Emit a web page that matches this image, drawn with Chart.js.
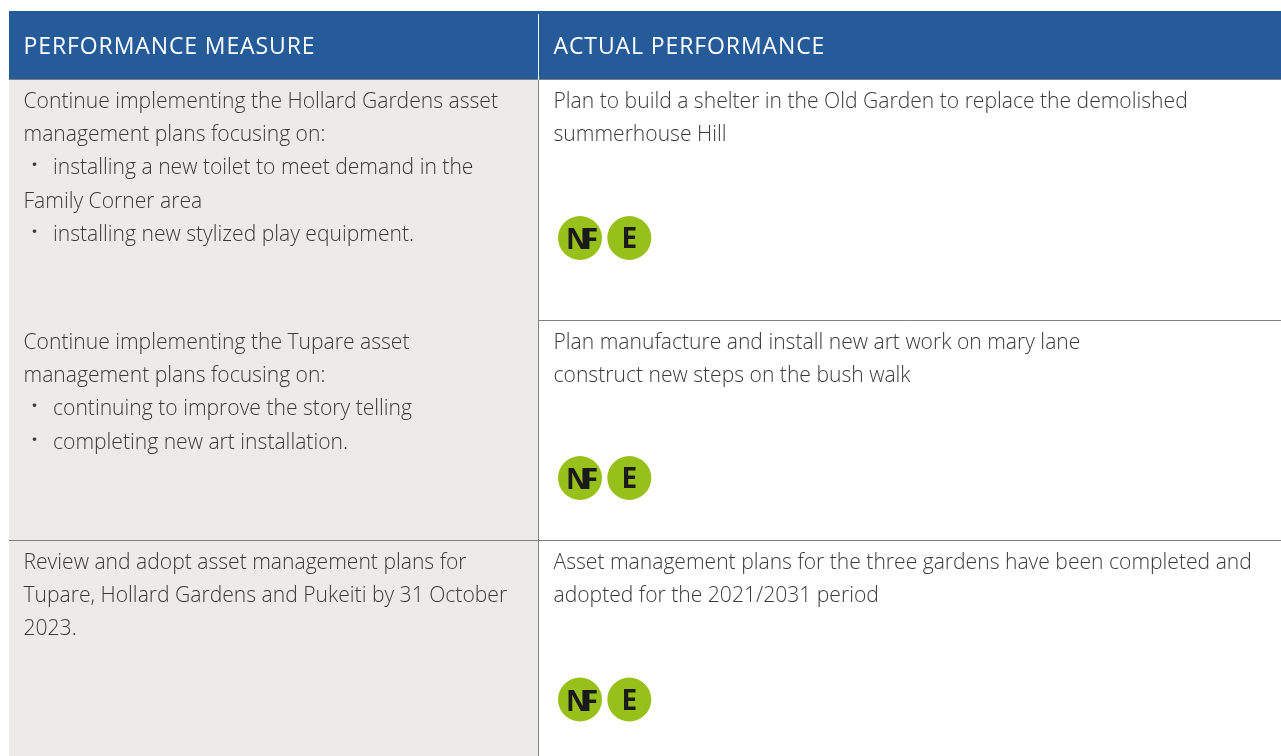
<!DOCTYPE html>
<html>
<head>
<meta charset="utf-8">
<style>
  html, body { margin: 0; background: #fff; overflow: hidden; }
  canvas { display: block; }
</style>
<script src="https://cdn.jsdelivr.net/npm/chart.js@4"></script>
</head>
<body>
<canvas id="myChart" width="1281" height="756"></canvas>
<script>
// table content
const columnTitles = ["PERFORMANCE MEASURE", "ACTUAL PERFORMANCE"];
const measureLines = [
    ["Continue implementing the Hollard Gardens asset", "management plans focusing on:", "· installing a new toilet to meet demand in the", "Family Corner area", "· installing new stylized play equipment."],
    ["Continue implementing the Tupare asset", "management plans focusing on:", "· continuing to improve the story telling", "· completing new art installation."],
    ["Review and adopt asset management plans for", "Tupare, Hollard Gardens and Pukeiti by 31 October", "2023."]
];
const actualLines = [
    ["Plan to build a shelter in the Old Garden to replace the demolished", "summerhouse Hill"],
    ["Plan manufacture and install new art work on mary lane", "construct new steps on the bush walk"],
    ["Asset management plans for the three gardens have been completed and", "adopted for the 2021/2031 period"]
];
const badgeLabels = ["NF", "E"];

// layout of the table, in page pixels
const pageWidth = 1281, pageHeight = 756;
const tableLeft = 9, divider = 538.5, headTop = 11, headBottom = 79.5;
const rowRules = [320.5, 540.5];
const rowBaselines = [108, 349, 569];
const lineGap = 33.2;
const textX = [23.5, 553.5];
const bulletTextX = 53;
const badgeX = [580, 629.3];
const badgeY = [238, 478, 699.5];

const rects = (x, width, top, bottom) => ({ x: x + width / 2, y: [top, bottom], width });
const line = (color, pts) => ({
    type: 'scatter', data: pts, showLine: true, borderColor: color, borderWidth: 1,
    pointRadius: 0, order: 1
});
const bar = (color, r) => ({
    type: 'bar', data: [{ x: r.x, y: r.y }], backgroundColor: color,
    barThickness: r.width, grouped: false, inflateAmount: 0, order: 2
});

const tableText = {
    id: 'tableText',
    afterDatasetsDraw(chart) {
        const ctx = chart.ctx, xs = chart.scales.x, ys = chart.scales.y;
        ctx.save();
        ctx.textBaseline = 'alphabetic';
        ctx.textAlign = 'left';

        ctx.fillStyle = '#ffffff';
        ctx.font = '400 23px "Open Sans"';
        ctx.letterSpacing = '0.9px';
        columnTitles.forEach((t, i) => ctx.fillText(t, xs.getPixelForValue(textX[i]), ys.getPixelForValue(53.5)));

        ctx.fillStyle = '#3a3a3a';
        ctx.letterSpacing = '0px';
        [measureLines, actualLines].forEach((col, c) => {
            col.forEach((lines, r) => {
                lines.forEach((t, n) => {
                    const y = ys.getPixelForValue(rowBaselines[r] + n * lineGap);
                    ctx.font = '300 21.1px "Open Sans"';
                    if (t.startsWith('· ')) {
                        ctx.fillText(t.slice(2), xs.getPixelForValue(bulletTextX), y);
                        ctx.font = '700 21px "Open Sans"';
                        ctx.fillText('·', xs.getPixelForValue(textX[c] + 8), y - 2);
                    } else {
                        ctx.fillText(t, xs.getPixelForValue(textX[c]), y);
                    }
                });
            });
        });

        ctx.fillStyle = '#1a1a1a';
        ctx.font = '700 28px "Open Sans"';
        ctx.textAlign = 'center';
        badgeY.forEach(y => {
            badgeLabels.forEach((t, i) => {
                // NF sits lower and its letters share a stem
                const wide = t.length > 1;
                ctx.letterSpacing = wide ? '-6px' : '0px';
                ctx.fillText(t, xs.getPixelForValue(badgeX[i] + (wide ? -1 : 0)), ys.getPixelForValue(y + (wide ? 11 : 10)));
            });
        });
        ctx.restore();
    }
};

const badgePoints = [];
badgeY.forEach(y => badgeX.forEach(x => badgePoints.push({ x, y })));

new Chart(document.getElementById('myChart'), {
    type: 'bar',
    data: {
        datasets: [
            bar('#265b9a', rects(tableLeft, pageWidth - tableLeft, headTop, headBottom)),
            bar('#edebe8', rects(tableLeft, divider - tableLeft, headBottom, pageHeight)),
            line('#ffffff', [{ x: divider, y: 14.5 }, { x: divider, y: headBottom }]),
            line('#808080', [{ x: divider, y: headBottom }, { x: divider, y: pageHeight }]),
            line('#808080', [{ x: tableLeft, y: headBottom }, { x: pageWidth, y: headBottom }]),
            line('#808080', [{ x: divider, y: rowRules[0] }, { x: pageWidth, y: rowRules[0] }]),
            line('#808080', [{ x: tableLeft, y: rowRules[1] }, { x: pageWidth, y: rowRules[1] }]),
            {
                type: 'scatter', data: badgePoints, backgroundColor: '#97c11a', borderWidth: 0,
                pointRadius: 22, order: 0
            }
        ]
    },
    options: {
        responsive: false,
        animation: false,
        layout: { padding: 0, autoPadding: false },
        plugins: { legend: { display: false }, tooltip: { enabled: false } },
        scales: {
            x: { type: 'linear', min: 0, max: pageWidth, offset: false, display: false },
            y: { type: 'linear', min: 0, max: pageHeight, reverse: true, display: false }
        }
    },
    plugins: [tableText]
});
</script>
</body>
</html>
